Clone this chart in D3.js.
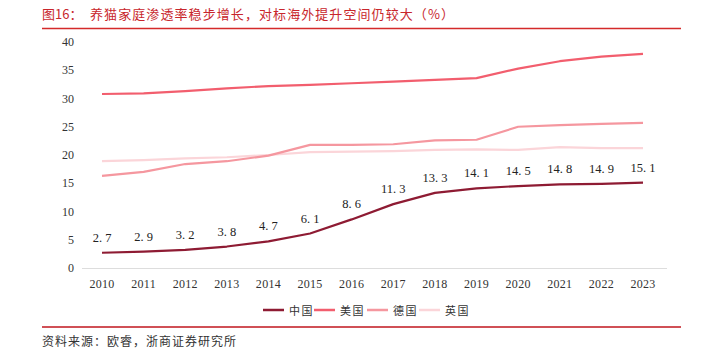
<!DOCTYPE html>
<html><head><meta charset="utf-8">
<script src="https://cdn.jsdelivr.net/npm/d3@7"></script>
<style>body{margin:0;background:#fff}svg{display:block}</style>
</head><body>
<svg id="c" width="704" height="361"></svg>
<script>
const years = [2010,2011,2012,2013,2014,2015,2016,2017,2018,2019,2020,2021,2022,2023];
const china = [2.7,2.9,3.2,3.8,4.7,6.1,8.6,11.3,13.3,14.1,14.5,14.8,14.9,15.1];
const usa = [30.8,30.9,31.3,31.8,32.2,32.4,32.7,33.0,33.3,33.6,35.3,36.6,37.4,37.9];
const germany = [16.3,17.0,18.4,18.9,19.9,21.8,21.8,21.9,22.6,22.7,25.0,25.3,25.5,25.7];
const uk = [18.9,19.1,19.4,19.6,20.0,20.5,20.6,20.7,20.9,21.0,20.9,21.4,21.2,21.2];
const yTicks = [0,5,10,15,20,25,30,35,40];
const seriesNames = ["中国","美国","德国","英国"];
const colors = ["#8E1B33","#F25E6E","#F5979F","#FBD5D9"];
const titleLabel = "图16：";
const titleText = "养猫家庭渗透率稳步增长，对标海外提升空间仍较大（%）";
const sourceText = "资料来源：欧睿，浙商证券研究所";

const svg = d3.select("#c");
const x = d3.scalePoint().domain(years).range([102, 643]);
const y = d3.scaleLinear().domain([0, 40]).range([268, 42]);
const serif = "'Liberation Serif','DejaVu Serif',serif";
const cjk = "'Noto Sans CJK SC','Noto Sans CJK JP',sans-serif";

// title
svg.append("text").attr("x", 42).attr("y", 19).attr("fill", "#C8262C")
  .attr("font-family", cjk).attr("font-size", 13).text(titleLabel);
svg.append("text").attr("x", 90).attr("y", 19).attr("fill", "#C8262C")
  .attr("font-family", cjk).attr("font-size", 13)
  .attr("textLength", 364).attr("lengthAdjust", "spacing").text(titleText);
svg.append("line").attr("x1", 42).attr("x2", 681).attr("y1", 28.5).attr("y2", 28.5)
  .attr("stroke", "#D42A2A").attr("stroke-width", 1.5);

// axis line
svg.append("line").attr("x1", 82).attr("x2", 667).attr("y1", y(0) + 0.5).attr("y2", y(0) + 0.5)
  .attr("stroke", "#DDDDDD").attr("stroke-width", 1);

// y tick labels
svg.append("g").selectAll("text").data(yTicks).join("text")
  .attr("x", 74).attr("y", d => y(d) + 4).attr("text-anchor", "end")
  .attr("font-family", serif).attr("font-size", 12).attr("fill", "#333")
  .text(d => d);

// x tick labels
svg.append("g").selectAll("text").data(years).join("text")
  .attr("x", d => x(d)).attr("y", 288).attr("text-anchor", "middle")
  .attr("font-family", serif).attr("font-size", 12).attr("fill", "#333")
  .attr("letter-spacing", 0.3)
  .text(d => d);

// lines
const data = [china, usa, germany, uk];
const line = d3.line().x((d, i) => x(years[i])).y(d => y(d));
[3,2,1,0].forEach(k => {
  svg.append("path").datum(data[k]).attr("d", line).attr("fill", "none")
    .attr("stroke", colors[k]).attr("stroke-width", 2.2).attr("stroke-linejoin", "round");
});

// china labels
svg.append("g").selectAll("text").data(china).join("text")
  .attr("x", (d, i) => x(years[i])).attr("y", d => y(d) - 11).attr("text-anchor", "middle")
  .attr("font-family", serif).attr("font-size", 12.5).attr("fill", "#222")
  .text(d => d.toFixed(1).replace(".", ". "));

// legend
const legX = [263, 314, 367, 419];
const lg = svg.append("g").selectAll("g").data(seriesNames).join("g");
lg.append("line").attr("x1", (d, i) => legX[i]).attr("x2", (d, i) => legX[i] + 21)
  .attr("y1", 310).attr("y2", 310).attr("stroke", (d, i) => colors[i]).attr("stroke-width", 2.5);
lg.append("text").attr("x", (d, i) => legX[i] + 26).attr("y", 314.5)
  .attr("font-family", cjk).attr("font-size", 11).attr("fill", "#333").attr("letter-spacing", 1.5)
  .text(d => d);

// bottom line & source
svg.append("line").attr("x1", 42).attr("x2", 681).attr("y1", 327).attr("y2", 327)
  .attr("stroke", "#C0161E").attr("stroke-width", 1.5);
svg.append("text").attr("x", 42).attr("y", 346).attr("fill", "#333")
  .attr("font-family", cjk).attr("font-size", 12).attr("letter-spacing", 1).text(sourceText);
</script>
</body></html>
